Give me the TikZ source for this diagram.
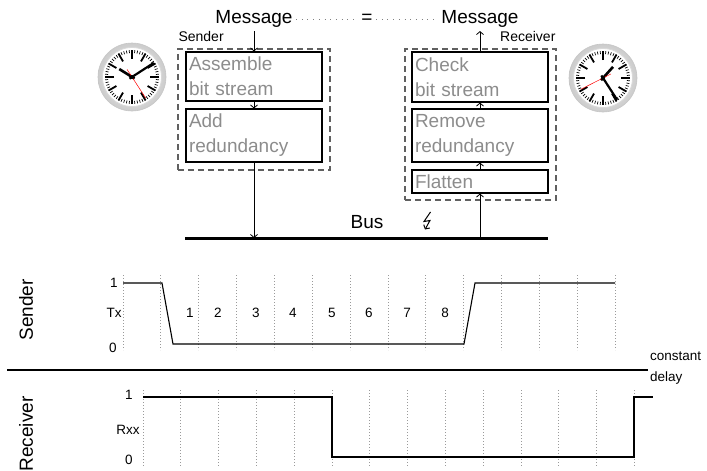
\documentclass[tikz,border=0pt]{standalone}
\usepackage{fontspec}
\setmainfont{Liberation Sans}
\usepackage{tikz}
\usetikzlibrary{arrows.meta}

\definecolor{steptext}{HTML}{8C8C8C}
\definecolor{tickgray}{HTML}{9A9A9A}

% clock: centre, hour angle, minute angle, second angle
\newcommand{\drawclock}[4]{%
\begin{scope}[shift={(#1)}, y=1pt]
\shade[inner color=gray!5, outer color=gray!40] (0,0) circle (34) ;
\draw[gray!45, line width=0.6pt] (0,0) circle (34) ;
\fill[white] (0,0) circle (29.5) ;
\draw[gray!30, line width=0.8pt] (0,0) circle (29.5) ;
\foreach \a in {0,6,...,354} \draw[line width=0.7pt] (\a:24) -- (\a:27) ;
\foreach \a in {0,30,...,330} \draw[line width=1.8pt] (\a:18) -- (\a:27) ;
\draw[line width=2.6pt] (#2+180:3) -- (#2:15) ;
\draw[line width=2.2pt] (#3+180:3) -- (#3:26) ;
\draw[red, line width=0.5pt] (#4+180:9) -- (#4:25) ;
\fill (0,0) circle (2) ;
\end{scope}}

\begin{document}
\begin{tikzpicture}[x=1pt, y=-1pt,
  >={Straight Barb[length=3pt,width=7pt]},
  big/.style={font=\fontsize{19}{25}\selectfont},
  small/.style={font=\fontsize{13.5}{21}\selectfont},
  lbl/.style={font=\fontsize{14}{16}\selectfont, inner sep=1pt},
  procbox/.style={draw, line width=1.1pt, text=steptext, align=left,
    text width=130pt, inner xsep=3pt, inner ysep=0pt, big},
  groupbox/.style={draw=gray!75!black, dash pattern=on 6pt off 4pt,
    line width=1.3pt, inner sep=0pt},
  flow/.style={->, line width=0.8pt},
  dots/.style={gray, line width=0.9pt, dash pattern=on 0.9pt off 4.8pt},
  tickline/.style={tickgray, line width=0.8pt, dash pattern=on 0.8pt off 2.2pt},
  signal/.style={line width=1.1pt}]
\useasboundingbox (0,0) rectangle (707,471) ;

\node[big] (msgS) at (254,19) {Message} ;
\node[big] (eq) at (367,19) {=} ;
\node[big] (msgR) at (480,19) {Message} ;
\draw[dots] (msgS) -- (eq) ;
\draw[dots] (eq) -- (msgR) ;

\node[groupbox, minimum width=152pt, minimum height=121pt] (sendgrp) at (254,109.5) {} ;
\node[groupbox, minimum width=151pt, minimum height=151pt] (recvgrp) at (480.5,124.5) {} ;
\node[lbl, anchor=base west] (sendlbl) at ([yshift=7pt]sendgrp.north west) {Sender} ;
\node[lbl, anchor=base east] (recvlbl) at ([yshift=7pt]recvgrp.north east) {Receiver} ;

\node[procbox, minimum height=49pt] (asm) at (254,76.5) {Assemble\\bit stream} ;
\node[procbox, minimum height=53pt] (addred) at (254,135.5) {Add\\redundancy} ;
\node[procbox, minimum height=50pt] (chk) at (480,77) {Check\\bit stream} ;
\node[procbox, minimum height=53pt] (remred) at (480,135.5) {Remove\\redundancy} ;
\node[procbox, minimum height=23pt] (flat) at (480,181.5) {Flatten} ;

\coordinate (busL) at (185,238) ;
\coordinate (busR) at (548,238) ;
\draw[line width=3pt] (busL) -- (busR) ;
\node[big] (bus) at (367,222) {Bus} ;
% disturbance on the bus
\coordinate (flash) at (427,221) ;
\draw[->, line width=1pt, line join=miter] ([shift={(3.5,-9)}]flash) -- ([shift={(-3,0.5)}]flash)
  -- ([shift={(3,-0.5)}]flash) -- ([shift={(-2,8.5)}]flash) ;

\draw[flow] (msgS) -- (asm) ;
\draw[flow] (asm) -- (addred) ;
\draw[flow] (addred) -- (addred |- busL) ;
\draw[flow] (flat |- busL) -- (flat) ;
\draw[flow] (flat) -- (remred) ;
\draw[flow] (remred) -- (chk) ;
\draw[flow] (chk) -- (msgR) ;

\drawclock{132,77}{148}{33}{-57}
\drawclock{603,78}{48}{-57}{207}

% sender line
\node[big, rotate=90] (txname) at (26,310) {Sender} ;
\foreach \k in {0,...,13} \draw[tickline] ({123+37.85*\k},275) -- ({123+37.85*\k},350) ;
\node[small] (txhi) at (114,283) {1} ;
\node[small] (tx) at (114,313) {Tx} ;
\node[small] (txlo) at (113,348) {0} ;
\draw[signal] (123,283) -- (162,283) -- (173,344) -- (464,344) -- (475,283) -- (615,283) ;
\foreach \n/\x in {1/190,2/218,3/256,4/293,5/332,6/369,7/407,8/445}
  \node[small] (bit\n) at (\x,313) {\n} ;

\draw[line width=1.5pt] (7,370) -- (648,370) ;
\node[small, anchor=west, align=left, inner sep=1pt] (delay) at (649,368) {constant\\delay} ;

% receiver line
\node[big, rotate=90] (rxname) at (26,434) {Receiver} ;
\foreach \k in {0,...,13} \draw[tickline] ({143+37.8*\k},390) -- ({143+37.8*\k},466) ;
\node[small] (rxhi) at (129,395) {1} ;
\node[small] (rx) at (128,430) {Rxx} ;
\node[small] (rxlo) at (129,460) {0} ;
\draw[signal] (143,397) -- (332,397) -- (332,457) -- (634,457) -- (634,397) -- (653,397) ;
\end{tikzpicture}
\end{document}
